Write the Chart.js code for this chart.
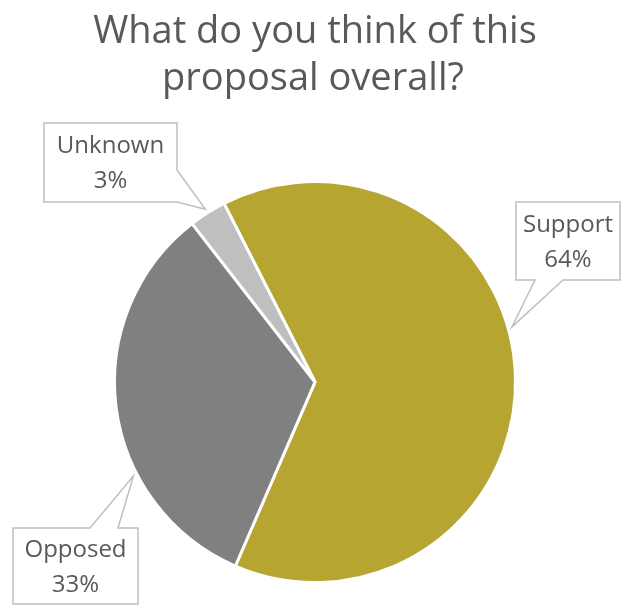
<!DOCTYPE html>
<html>
<head>
<meta charset="utf-8">
<script src="https://cdn.jsdelivr.net/npm/chart.js@4.4.0/dist/chart.umd.min.js"></script>
<style>
  html, body { margin: 0; padding: 0; background: #fff; }
</style>
</head>
<body>
<canvas id="mycanvas" width="627" height="605"></canvas>
<script>
var titleLines = ["What do you think of this", "proposal overall?"];
var labels = ["Support", "Opposed", "Unknown"];
var values = [64, 33, 3];
var colors = ["#B7A532", "#808080", "#BFBFBF"];

// callout boxes [x, y, w, h], which side the pointer leaves from,
// the pointer base along that side, and where on the slice it points
var callouts = [
    {box: [516, 202, 104, 78], side: "bottom", base: [19, 47], at: 0.44},
    {box: [13, 528, 125, 76], side: "top", base: [77, 105], at: 0.33},
    {box: [44, 123, 133, 79], side: "right", base: [47, 79], at: 0.5}
];

var textColor = "#595959";

var titlePlugin = {
    id: "bigTitle",
    afterDraw: function(chart) {
        var ctx = chart.ctx;
        ctx.save();
        ctx.fillStyle = textColor;
        ctx.font = "38px 'Open Sans'";
        ctx.textAlign = "center";
        ctx.textBaseline = "alphabetic";
        ctx.fillText(titleLines[0], 315, 43);
        ctx.fillText(titleLines[1], 313, 90);
        ctx.restore();
    }
};

var calloutPlugin = {
    id: "callouts",
    afterDatasetsDraw: function(chart) {
        var ctx = chart.ctx;
        var arcs = chart.getDatasetMeta(0).data;
        var total = values.reduce(function(a, b) { return a + b; }, 0);

        for (var i = 0; i < arcs.length; i++) {
            var arc = arcs[i];
            var c = callouts[i];
            var p = arc.getProps(["x", "y", "startAngle", "endAngle", "outerRadius"], true);
            var ang = p.startAngle + c.at * (p.endAngle - p.startAngle);
            var tx = p.x + Math.cos(ang) * (p.outerRadius + 4);
            var ty = p.y + Math.sin(ang) * (p.outerRadius + 4);

            var x = c.box[0], y = c.box[1], w = c.box[2], h = c.box[3];
            var a = c.base[0], b = c.base[1];

            ctx.save();
            ctx.beginPath();
            ctx.moveTo(x, y);
            if (c.side === "top") {
                ctx.lineTo(x + a, y);
                ctx.lineTo(tx, ty);
                ctx.lineTo(x + b, y);
            }
            ctx.lineTo(x + w, y);
            if (c.side === "right") {
                ctx.lineTo(x + w, y + a);
                ctx.lineTo(tx, ty);
                ctx.lineTo(x + w, y + b);
            }
            ctx.lineTo(x + w, y + h);
            if (c.side === "bottom") {
                ctx.lineTo(x + b, y + h);
                ctx.lineTo(tx, ty);
                ctx.lineTo(x + a, y + h);
            }
            ctx.lineTo(x, y + h);
            ctx.closePath();
            ctx.fillStyle = "#ffffff";
            ctx.fill();
            ctx.strokeStyle = "#BFBFBF";
            ctx.lineWidth = 1.5;
            ctx.stroke();

            var pct = Math.round(values[i] / total * 100) + "%";
            var cy = y + h / 2;
            ctx.fillStyle = textColor;
            ctx.font = "24px 'Open Sans'";
            ctx.textAlign = "center";
            ctx.textBaseline = "alphabetic";
            ctx.fillText(labels[i], x + w / 2, cy - 17.5 + 8);
            ctx.fillText(pct, x + w / 2, cy + 17.5 + 8);
            ctx.restore();
        }
    }
};

var ctx = document.getElementById("mycanvas");

var chart = new Chart(ctx, {
    type: "pie",
    data: {
        labels: labels,
        datasets: [{
            data: values,
            backgroundColor: colors,
            borderColor: "#ffffff",
            borderWidth: 3,
            hoverOffset: 0
        }]
    },
    options: {
        responsive: false,
        animation: false,
        rotation: -27,
        layout: {
            padding: {left: 113, right: 110, top: 180, bottom: 21}
        },
        plugins: {
            legend: {display: false},
            tooltip: {enabled: false},
            title: {display: false}
        }
    },
    plugins: [titlePlugin, calloutPlugin]
});
</script>
</body>
</html>
